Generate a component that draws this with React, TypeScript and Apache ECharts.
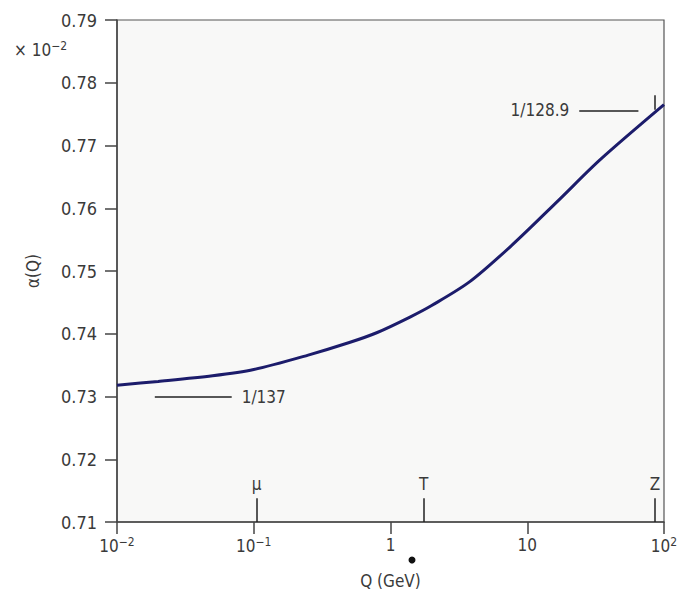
import React, { useEffect, useRef } from "react";
import * as echarts from "echarts";

// Q in GeV, alpha(Q) in units of 10^-2
const Q_VALUES = [0.01, 0.02, 0.05, 0.1, 0.25, 0.5, 0.8, 1.4, 2, 3.8, 7.8, 17, 34, 100];
const ALPHA_VALUES = [0.7318, 0.7324, 0.7333, 0.7343, 0.7366, 0.7386, 0.7402, 0.7427, 0.7445, 0.7483, 0.7542, 0.7613, 0.7677, 0.7765];

const Y_MIN = 0.71;
const Y_MAX = 0.79;
const Y_INTERVAL = 0.01;
const X_MIN = 0.01;
const X_MAX = 100;

const PARTICLE_LABELS = ["μ", "T", "Z"];
const PARTICLE_MASSES = [0.105, 1.75, 86];
const MARKER_TOP = 0.7138;

const LOW_LABEL = "1/137";
const LOW_VALUE = 0.72993;
const LOW_RANGE = [0.0189, 0.069];
const HIGH_LABEL = "1/128.9";
const HIGH_VALUE = 0.7756;
const HIGH_RANGE = [24, 65];
const Z_BAR = [0.7757, 0.778];

const FONT = "'Liberation Sans Narrow', 'DejaVu Sans Condensed', 'Arial Narrow', sans-serif";
const TEXT_COLOR = "#3a3a3a";

function xLabel(v: number): string {
  const e = Math.round(Math.log10(v));
  if (e === 0) return "1";
  if (e === 1) return "10";
  const sup = e < 0 ? "−" + Math.abs(e) : String(e);
  return "{b|10}{s|" + sup + "}";
}

export default function App() {
  const ref = useRef<HTMLDivElement>(null);
  useEffect(() => {
    if (!ref.current) return;
    const chart = echarts.init(ref.current, undefined, { renderer: "svg" });
    const lineData = Q_VALUES.map((q, i) => [q, ALPHA_VALUES[i]]);
    const labelStyle = { color: TEXT_COLOR, fontSize: 17, fontFamily: FONT };
    const markerData: any[] = PARTICLE_MASSES.map((m, i) => [
      {
        coord: [m, Y_MIN],
        label: { show: true, position: "end", formatter: PARTICLE_LABELS[i], distance: 6, ...labelStyle },
      },
      { coord: [m, MARKER_TOP] },
    ]);
    markerData.push([
      {
        coord: [LOW_RANGE[0], LOW_VALUE],
        label: { show: true, position: "end", formatter: LOW_LABEL, distance: 10, ...labelStyle },
      },
      { coord: [LOW_RANGE[1], LOW_VALUE] },
    ]);
    markerData.push([
      {
        coord: [HIGH_RANGE[1], HIGH_VALUE],
        label: { show: true, position: "end", formatter: HIGH_LABEL, distance: 10, ...labelStyle },
      },
      { coord: [HIGH_RANGE[0], HIGH_VALUE] },
    ]);
    markerData.push([
      { coord: [PARTICLE_MASSES[2], Z_BAR[0]], label: { show: false } },
      { coord: [PARTICLE_MASSES[2], Z_BAR[1]] },
    ]);

    chart.setOption({
      animation: false,
      backgroundColor: "#ffffff",
      grid: {
        left: 117,
        right: 26,
        top: 20,
        bottom: 74,
        show: true,
        backgroundColor: "#f8f8f7",
        borderColor: "#555",
        borderWidth: 1.2,
      },
      xAxis: {
        type: "log",
        logBase: 10,
        min: X_MIN,
        max: X_MAX,
        name: "Q (GeV)",
        nameLocation: "middle",
        nameGap: 50,
        nameTextStyle: labelStyle,
        axisLine: { show: true, lineStyle: { color: "#444", width: 1.5 } },
        axisTick: { show: true, inside: false, length: 12, lineStyle: { color: "#444", width: 1.5 } },
        minorTick: { show: false },
        splitLine: { show: false },
        axisLabel: {
          margin: 14,
          ...labelStyle,
          formatter: (v: number) => xLabel(v),
          rich: {
            b: { fontSize: 17, fontFamily: FONT, color: TEXT_COLOR },
            s: { fontSize: 12, fontFamily: FONT, color: TEXT_COLOR, verticalAlign: "top", padding: [0, 0, 8, 0] },
          },
        },
      },
      yAxis: {
        type: "value",
        min: Y_MIN,
        max: Y_MAX,
        interval: Y_INTERVAL,
        name: "α(Q)",
        nameLocation: "middle",
        nameGap: 76,
        nameRotate: 90,
        nameTextStyle: labelStyle,
        axisLine: { show: true, lineStyle: { color: "#444", width: 1.5 } },
        axisTick: { show: true, inside: false, length: 12, lineStyle: { color: "#444", width: 1.5 } },
        splitLine: { show: false },
        axisLabel: {
          margin: 20,
          color: TEXT_COLOR,
          fontSize: 18,
          fontFamily: FONT,
          formatter: (v: number) => v.toFixed(2),
        },
      },
      graphic: [
        {
          type: "text",
          left: 14,
          top: 40,
          style: {
            text: "× 10{s|−2}",
            rich: {
              s: { fontSize: 12, fontFamily: FONT, fill: TEXT_COLOR, verticalAlign: "top", padding: [0, 0, 8, 0] },
            },
            fontSize: 17,
            fontFamily: FONT,
            fill: TEXT_COLOR,
          },
        },
        {
          type: "circle",
          shape: { cx: 412, cy: 560, r: 3.5 },
          style: { fill: "#111" },
        },
      ],
      series: [
        {
          type: "line",
          data: lineData,
          smooth: 0.3,
          showSymbol: false,
          lineStyle: { color: "#1c1c6b", width: 3 },
          markLine: {
            silent: true,
            symbol: "none",
            animation: false,
            lineStyle: { color: "#222", width: 1.5, type: "solid" },
            data: markerData,
          },
        },
      ],
    });
    return () => chart.dispose();
  }, []);
  return <div ref={ref} style={{ position: "absolute", left: 0, top: 0, width: 690, height: 596 }} />;
}
